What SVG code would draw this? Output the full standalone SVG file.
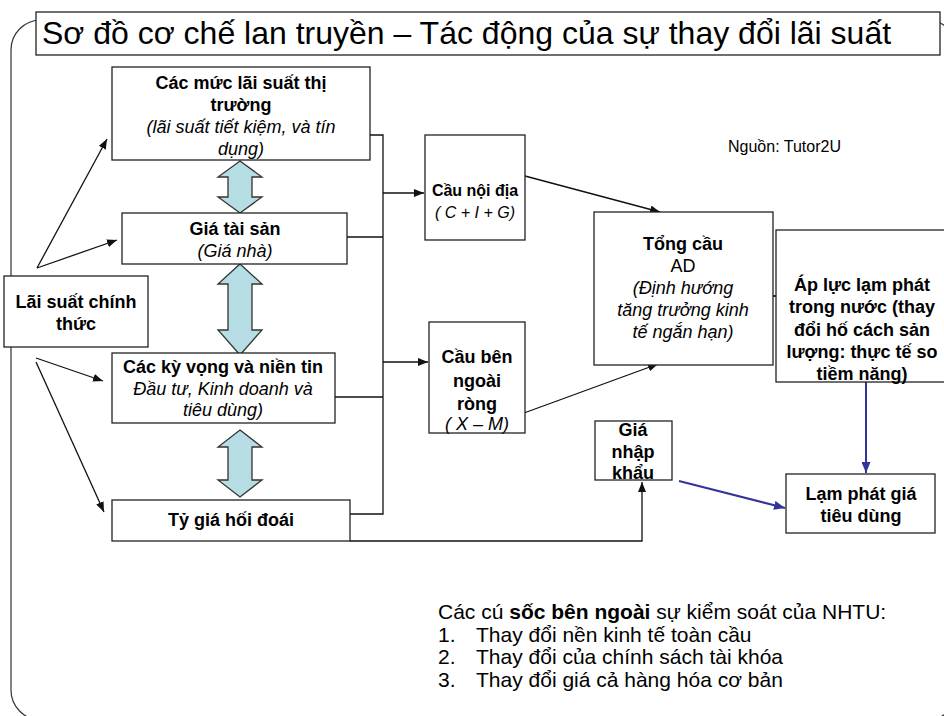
<svg xmlns="http://www.w3.org/2000/svg" width="944" height="716" viewBox="0 0 944 716">
<defs>
<style>
.t{font-family:"Liberation Sans",Arial,"Noto Sans",sans-serif;font-size:18px;text-anchor:middle;fill:#000}
.b{font-weight:bold}
.i{font-style:italic}
.s16{font-size:16px}
.box{fill:#fff;stroke:#222;stroke-width:1.3}
.ln{fill:none;stroke:#111;stroke-width:1.3}
.blue{fill:none;stroke:#33339a;stroke-width:2}
.dbl{fill:#b6dde3;stroke:#333;stroke-width:1.3}
</style>
<marker id="ah" markerUnits="userSpaceOnUse" markerWidth="10" markerHeight="8" refX="10" refY="4" orient="auto"><path d="M0,0 L10,4 L0,8 z" fill="#111"/></marker>
<marker id="ahb" markerUnits="userSpaceOnUse" markerWidth="11" markerHeight="9" refX="11" refY="4.5" orient="auto"><path d="M0,0 L11,4.5 L0,9 z" fill="#33339a"/></marker>
</defs>
<rect width="944" height="716" fill="#fff"/>
<rect x="11" y="20" width="946" height="700" rx="30" ry="30" fill="none" stroke="#333" stroke-width="1.2"/>

<g id="title">
<rect x="36" y="12" width="904" height="43" class="box"/>
<text x="42" y="44" font-family="Liberation Sans,Arial,sans-serif" font-size="32" fill="#000">Sơ đồ cơ chế lan truyền – Tác động của sự thay đổi lãi suất</text>
</g>

<g id="connectors">
<line class="ln" x1="37" y1="268" x2="107" y2="139" marker-end="url(#ah)"/>
<line class="ln" x1="37" y1="268" x2="117" y2="240" marker-end="url(#ah)"/>
<line class="ln" x1="36" y1="358" x2="103" y2="381" marker-end="url(#ah)"/>
<line class="ln" x1="36" y1="362" x2="104" y2="512" marker-end="url(#ah)"/>
<polyline class="ln" points="360,135 383,135 383,514 350,514"/>
<line class="ln" x1="347" y1="237" x2="383" y2="237"/>
<line class="ln" x1="335" y1="397" x2="383" y2="397"/>
<line class="ln" x1="383" y1="193" x2="424" y2="193" marker-end="url(#ah)"/>
<line class="ln" x1="383" y1="362" x2="428" y2="362" marker-end="url(#ah)"/>
<line class="ln" x1="525" y1="176" x2="660" y2="212" marker-end="url(#ah)"/>
<line class="ln" x1="524" y1="413" x2="658" y2="364" marker-end="url(#ah)"/>
<line class="ln" x1="735" y1="296" x2="776" y2="296" marker-end="url(#ah)"/>
<polyline class="ln" points="350,541 642,541 642,482" marker-end="url(#ah)"/>
<line class="blue" x1="866" y1="382" x2="866" y2="473" marker-end="url(#ahb)"/>
<line class="blue" x1="679" y1="481" x2="785" y2="508" marker-end="url(#ahb)"/>
<polygon class="dbl" points="240,161 262,177 252,177 252,197 262,197 240,213 218,197 228,197 228,177 218,177"/>
<polygon class="dbl" points="240,264 262,284 252,284 252,330 262,330 240,355 218,330 228,330 228,284 218,284"/>
<polygon class="dbl" points="240,430 262,447 252,447 252,480 262,480 240,497 218,480 228,480 228,447 218,447"/>
</g>

<g id="thi-truong">
<rect x="112" y="67" width="258" height="93" class="box"/>
<text class="t b" x="241" y="89">Các mức lãi suất thị</text>
<text class="t b" x="241" y="111">trường</text>
<text class="t i" x="241" y="133">(lãi suất tiết kiệm, và tín</text>
<text class="t i" x="241" y="155">dụng)</text>
</g>

<g id="gia-tai-san">
<rect x="122" y="213" width="225" height="51" class="box"/>
<text class="t b" x="235" y="235">Giá tài sản</text>
<text class="t i" x="235" y="257">(Giá nhà)</text>
</g>

<g id="lai-suat">
<rect x="4" y="276" width="144" height="71" class="box"/>
<text class="t b" x="76" y="308">Lãi suất chính</text>
<text class="t b" x="76" y="330">thức</text>
</g>

<g id="ky-vong">
<rect x="112" y="353" width="223" height="70" class="box"/>
<text class="t b" x="223" y="373">Các kỳ vọng và niền tin</text>
<text class="t i" x="223" y="395">Đầu tư, Kinh doanh và</text>
<text class="t i" x="223" y="416">tiêu dùng)</text>
</g>

<g id="ty-gia">
<rect x="112" y="500" width="238" height="41" class="box"/>
<text class="t b" x="231" y="526">Tỷ giá hối đoái</text>
</g>

<g id="cau-noi-dia">
<rect x="425" y="135" width="100" height="105" class="box"/>
<text class="t b s16" x="475" y="196">Cầu nội địa</text>
<text class="t i s16" x="475" y="218">( C + I + G)</text>
</g>

<g id="tong-cau">
<rect x="594" y="212" width="179" height="153" class="box"/>
<text class="t b" x="683" y="250">Tổng cầu</text>
<text class="t" x="683" y="272">AD</text>
<text class="t i" x="683" y="294">(Định hướng</text>
<text class="t i" x="683" y="316">tăng trưởng kinh</text>
<text class="t i" x="683" y="338">tế ngắn hạn)</text>
</g>

<g id="ap-luc">
<rect x="776" y="230" width="174" height="152" class="box"/>
<text class="t b" x="862" y="291">Áp lực lạm phát</text>
<text class="t b" x="862" y="313">trong nước (thay</text>
<text class="t b" x="862" y="336">đổi hố cách sản</text>
<text class="t b" x="862" y="358">lượng: thực tế so</text>
<text class="t b" x="862" y="380">tiềm năng)</text>
</g>

<g id="cau-ben-ngoai">
<rect x="429" y="322" width="96" height="111" class="box"/>
<text class="t b" x="477" y="363">Cầu bên</text>
<text class="t b" x="477" y="387">ngoài</text>
<text class="t b" x="477" y="410">ròng</text>
<text class="t i" x="477" y="430">( X – M)</text>
</g>

<g id="gia-nhap-khau">
<rect x="595" y="421" width="77" height="59" class="box"/>
<text class="t b" x="633" y="436">Giá</text>
<text class="t b" x="633" y="458">nhập</text>
<text class="t b" x="633" y="479">khẩu</text>
</g>

<g id="lam-phat">
<rect x="786" y="474" width="149" height="59" class="box"/>
<text class="t b" x="861" y="500">Lạm phát giá</text>
<text class="t b" x="861" y="522">tiêu dùng</text>
</g>

<g id="nguon">
<text x="728" y="152" font-family="Liberation Sans,Arial,sans-serif" font-size="16" fill="#000">Nguồn: Tutor2U</text>
</g>

<g id="cu-soc" font-family="Liberation Sans,Arial,sans-serif" font-size="21" fill="#000">
<text x="438" y="619">Các cú <tspan font-weight="bold">sốc bên ngoài</tspan> sự kiểm soát của NHTU:</text>
<text x="438" y="642">1.</text><text x="476" y="642">Thay đổi nền kinh tế toàn cầu</text>
<text x="438" y="664">2.</text><text x="476" y="664">Thay đổi của chính sách tài khóa</text>
<text x="438" y="687">3.</text><text x="476" y="687">Thay đổi giá cả hàng hóa cơ bản</text>
</g>
</svg>
